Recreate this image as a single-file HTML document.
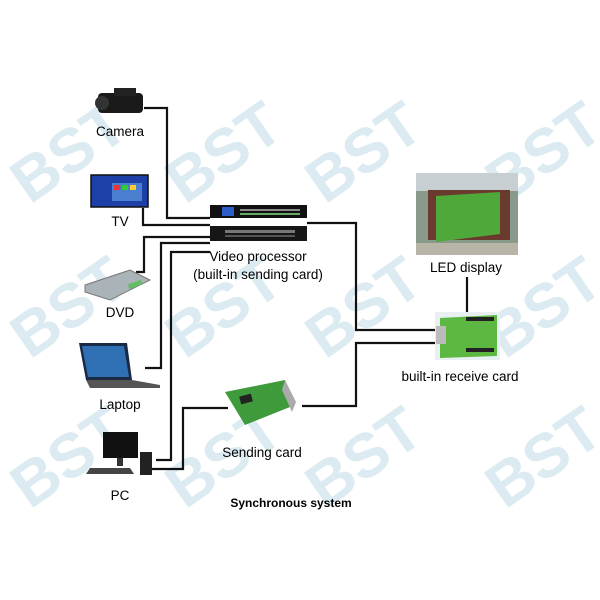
<!DOCTYPE html>
<html><head><style>
html,body{margin:0;padding:0;background:#fff;width:600px;height:600px;overflow:hidden}
svg text{font-family:"Liberation Sans",sans-serif}
</style></head><body>
<svg width="600" height="600" viewBox="0 0 600 600" xmlns="http://www.w3.org/2000/svg">
<rect width="600" height="600" fill="#fff"/>
<!-- watermarks -->
<g fill="#dbebf1" font-weight="bold" font-size="62" font-family="Liberation Sans,sans-serif">
<text transform="translate(30,205) rotate(-35)">BST</text>
<text transform="translate(185,205) rotate(-35)">BST</text>
<text transform="translate(325,205) rotate(-35)">BST</text>
<text transform="translate(505,205) rotate(-35)">BST</text>
<text transform="translate(30,360) rotate(-35)">BST</text>
<text transform="translate(185,360) rotate(-35)">BST</text>
<text transform="translate(325,360) rotate(-35)">BST</text>
<text transform="translate(505,360) rotate(-35)">BST</text>
<text transform="translate(30,510) rotate(-35)">BST</text>
<text transform="translate(185,510) rotate(-35)">BST</text>
<text transform="translate(325,510) rotate(-35)">BST</text>
<text transform="translate(505,510) rotate(-35)">BST</text>
</g>
<!-- wires -->
<g stroke="#111" stroke-width="2.2" fill="none">
<polyline points="144,108 167,108 167,218 210,218"/>
<polyline points="143,208 143,225 210,225"/>
<polyline points="136,272 144,272 144,237 210,237"/>
<polyline points="145,368 161,368 161,243 210,243"/>
<polyline points="156,460 171,460 171,252 210,252"/>
<polyline points="152,469 183,469 183,408 228,408"/>
<polyline points="307,223 356,223 356,330 435,330"/>
<polyline points="302,406 356,406 356,343 435,343"/>
<line x1="467" y1="277" x2="467" y2="315"/>
</g>
<!-- camera -->
<g><rect x="98" y="93" width="45" height="20" rx="4" fill="#1a1a1a"/><rect x="114" y="88" width="22" height="8" fill="#222"/><circle cx="102" cy="103" r="7" fill="#333"/></g>
<text x="120" y="136" font-size="13.5" text-anchor="middle">Camera</text>
<!-- TV -->
<rect x="91" y="175" width="57" height="32" fill="#1d3fa8" stroke="#111" stroke-width="1.5"/>
<rect x="112" y="183" width="30" height="18" fill="#4a7fd0"/>
<rect x="114" y="185" width="6" height="5" fill="#e33"/><rect x="122" y="185" width="6" height="5" fill="#3c3"/><rect x="130" y="185" width="6" height="5" fill="#fc3"/>
<text x="120" y="226" font-size="13.5" text-anchor="middle">TV</text>
<!-- video processor -->
<rect x="210" y="205" width="97" height="13" fill="#111"/>
<rect x="222" y="207" width="12" height="9" fill="#2b5cc8"/>
<rect x="240" y="209" width="60" height="2" fill="#888"/><rect x="240" y="213" width="60" height="2" fill="#6a6"/>
<rect x="210" y="226" width="97" height="15" fill="#161616"/>
<rect x="225" y="230" width="70" height="3" fill="#777"/><rect x="225" y="235" width="70" height="2" fill="#555"/>
<text x="258" y="261" font-size="13.5" text-anchor="middle">Video processor</text>
<text x="258" y="279" font-size="13.5" text-anchor="middle">(built-in sending card)</text>
<!-- DVD -->
<polygon points="85,285 130,270 150,280 110,300 85,292" fill="#a9b3b8" stroke="#777"/>
<rect x="128" y="282" width="14" height="5" fill="#6b6" transform="rotate(-20 135 284)"/>
<text x="120" y="317" font-size="13.5" text-anchor="middle">DVD</text>
<!-- laptop -->
<polygon points="79,343 127,343 132,380 86,380" fill="#1b2a44"/>
<polygon points="82,346 124,346 129,377 88,377" fill="#2f6fb3"/>
<polygon points="86,380 132,380 160,385 160,388 90,388" fill="#555"/>
<text x="120" y="409" font-size="13.5" text-anchor="middle">Laptop</text>
<!-- PC -->
<rect x="103" y="432" width="35" height="26" fill="#111"/>
<rect x="117" y="458" width="6" height="8" fill="#333"/>
<rect x="140" y="452" width="12" height="23" fill="#222"/>
<polygon points="90,468 130,468 134,474 86,474" fill="#444"/>
<text x="120" y="500" font-size="13.5" text-anchor="middle">PC</text>
<!-- sending card -->
<polygon points="225,392 285,380 295,405 245,425" fill="#3e9a3a"/>
<polygon points="285,380 296,402 292,412 282,390" fill="#aaa"/>
<rect x="240" y="395" width="12" height="8" fill="#222" transform="rotate(-15 246 399)"/>
<text x="262" y="457" font-size="13.5" text-anchor="middle">Sending card</text>
<text x="291" y="507" font-size="12" font-weight="bold" text-anchor="middle">Synchronous system</text>
<!-- LED display -->
<rect x="416" y="173" width="102" height="82" fill="#8a9a8a"/>
<rect x="416" y="173" width="102" height="18" fill="#c8cfd2"/>
<rect x="428" y="190" width="82" height="50" fill="#6b3a2e"/>
<polygon points="436,196 500,192 500,234 436,242" fill="#4fa83a"/>
<rect x="416" y="243" width="102" height="12" fill="#b9b4a8"/>
<text x="466" y="272" font-size="13.5" text-anchor="middle">LED display</text>
<!-- receive card -->
<rect x="435" y="312" width="65" height="48" fill="#e8f0f2"/>
<polygon points="440,318 497,315 497,356 440,358" fill="#5cb840"/>
<rect x="466" y="317" width="28" height="4" fill="#222"/><rect x="466" y="348" width="28" height="4" fill="#222"/>
<rect x="436" y="326" width="10" height="18" fill="#bbb"/>
<text x="460" y="381" font-size="13.5" text-anchor="middle">built-in receive card</text>
</svg>
</body></html>
